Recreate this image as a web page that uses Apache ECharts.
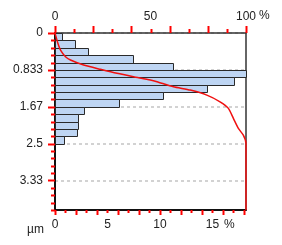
<!DOCTYPE html>
<html><head><meta charset="utf-8">
<script src="https://cdn.jsdelivr.net/npm/echarts@6/dist/echarts.min.js"></script>
<style>html,body{margin:0;padding:0;background:#fff}#c{width:282px;height:245px}</style>
</head><body><div id="c"></div>
<script>
// size classes (µm), bin edges
const binEdges = [0, 0.1667, 0.3333, 0.5, 0.6667, 0.8333, 1.0, 1.1667, 1.3333, 1.5, 1.6667, 1.8333, 2.0, 2.1667, 2.3333, 2.5];
// frequency per class (%)
const binValues = [0.68, 1.88, 3.11, 7.47, 11.2, 18.2, 17.1, 14.45, 10.26, 6.14, 2.73, 2.2, 2.2, 2.1, 0.83];
// cumulative curve (size µm, cumulative %)
const cumSizes   = [0, 0.05, 0.23, 0.385, 0.536, 0.611, 0.724, 0.821, 0.912, 0.989, 1.063, 1.102, 1.215, 1.29, 1.403, 1.554, 1.704, 1.93, 2.156, 2.308, 2.495, 4.0];
const cumPercent = [0, 0.3, 1.5, 2.9, 5.5, 8.1, 15.0, 23.8, 32.5, 41.1, 49.9, 53.4, 62.0, 70.8, 79.5, 86.4, 90.8, 93.4, 96.0, 98.6, 100, 100];
// axes: ranges, tick positions and tick labels
const yMax = 4.0;
const yTickValues = [0, 0.8333, 1.6667, 2.5, 3.3333];
const yTickLabels = ['0', '0.833', '1.67', '2.5', '3.33'];
const yMinorTicks = [0.1667, 0.3333, 0.5, 0.6667, 1.0, 1.1667, 1.3333, 1.5, 1.8333, 2.0, 2.1667, 2.3333, 2.6667, 2.8333, 3.0, 3.1667, 3.5, 3.6667, 3.8333, 4.0];
const freqMax = 18.2;
const freqLabelValues = [0, 5, 10, 15];
const freqTallTicks = [0, 2, 4, 6, 8, 10, 12, 14, 16, 18];
const freqShortTicks = [1, 3, 5, 7, 9, 11, 13, 15, 17];
const cumLabelValues = [0, 50, 100];
const cumTallTicks = [0, 20, 40, 60, 80, 100];
const cumShortTicks = [10, 30, 50, 70, 90];

const barData = binValues.map((v, i) => [binEdges[i], binEdges[i + 1], v]);
const lineData = cumSizes.map((s, i) => [cumPercent[i], s]);

const font = 'Liberation Sans';
const lblColor = '#222';
const hidden = {show: false};

// ticks drawn through the axes' own scales (api.coord)
function tickSeries(xAxisIndex, points, dx, dy) {
  return {
    type: 'custom', xAxisIndex: xAxisIndex, yAxisIndex: 0, clip: false, z: 6,
    data: points, encode: {x: 0, y: 1},
    renderItem: (params, api) => {
      const p = api.coord([api.value(0), api.value(1)]);
      let x = p[0], y = p[1];
      if (dx === 0) x = Math.round(x) + 0.5; else y = Math.round(y) + 0.5;
      return {type: 'line', shape: {x1: x, y1: y, x2: x + dx, y2: y + dy},
              style: {stroke: '#ff0000', lineWidth: 2}};
    }
  };
}

const chart = echarts.init(document.getElementById('c'));
chart.setOption({
  animation: false,
  backgroundColor: '#fff',
  grid: {left: 55, right: 36, top: 33, bottom: 35, show: false},
  xAxis: [
    {type: 'value', position: 'bottom', min: 0, max: freqMax,
     axisLine: {show: true, onZero: false, lineStyle: {color: '#111', width: 2}},
     axisTick: hidden,
     axisLabel: {show: true, customValues: freqLabelValues, margin: 9, color: lblColor, fontFamily: font, fontSize: 12},
     splitLine: hidden},
    {type: 'value', position: 'top', min: 0, max: 100,
     axisLine: {show: true, onZero: false, lineStyle: {color: '#333', width: 1.5}},
     axisTick: hidden,
     axisLabel: {show: true, customValues: cumLabelValues, margin: 10, color: lblColor, fontFamily: font, fontSize: 12},
     splitLine: hidden}
  ],
  yAxis: [
    {type: 'value', position: 'left', inverse: true, min: 0, max: yMax,
     axisLine: {show: true, onZero: false, lineStyle: {color: '#111', width: 2}},
     axisTick: hidden,
     axisLabel: {show: true, customValues: yTickValues, margin: 12, color: lblColor, fontFamily: font, fontSize: 12,
       formatter: v => { const i = yTickValues.findIndex(t => Math.abs(t - v) < 1e-3); return i >= 0 ? yTickLabels[i] : ''; }},
     splitLine: hidden},
    {type: 'value', position: 'left', inverse: true, min: 0, max: yMax, interval: 5 / 6,
     axisLine: {show: false, onZero: false}, axisTick: hidden, axisLabel: hidden,
     splitLine: {show: true, lineStyle: {color: '#c4c4c4', width: 1.5, type: [3, 3]}}},
    {type: 'value', position: 'right', inverse: true, min: 0, max: yMax,
     axisLine: {show: true, onZero: false, lineStyle: {color: '#333', width: 1.5}},
     axisTick: hidden, axisLabel: hidden, splitLine: hidden}
  ],
  graphic: [
    {type: 'text', left: 259, top: 10, style: {text: '%', fontFamily: font, fontSize: 12, fill: lblColor}},
    {type: 'text', left: 224, top: 219, style: {text: '%', fontFamily: font, fontSize: 12, fill: lblColor}},
    {type: 'text', left: 27, top: 224, style: {text: 'µm', fontFamily: font, fontSize: 12, fill: lblColor}}
  ],
  series: [
    {type: 'custom', xAxisIndex: 0, yAxisIndex: 0, data: barData, z: 3,
     encode: {x: 2, y: [0, 1]},
     renderItem: (params, api) => {
       const p0 = api.coord([0, api.value(0)]);
       const p1 = api.coord([api.value(2), api.value(1)]);
       const x0 = Math.round(p0[0]) + 0.5, y0 = Math.round(p0[1]) + 0.5;
       const x1 = Math.round(p1[0]) + 0.5, y1 = Math.round(p1[1]) + 0.5;
       return {type: 'rect', shape: {x: x0, y: y0, width: x1 - x0, height: y1 - y0},
               style: {fill: '#bed5f3', stroke: '#2a2a2a', lineWidth: 1}};
     }},
    {type: 'line', xAxisIndex: 1, yAxisIndex: 0, data: lineData, z: 5, clip: false,
     showSymbol: false, symbol: 'none', smooth: 0.2,
     lineStyle: {color: '#f01010', width: 1.5}},
    tickSeries(0, freqTallTicks.map(v => [v, yMax]), 0, 5),
    tickSeries(0, freqShortTicks.map(v => [v, yMax]), 0, 3),
    tickSeries(1, cumTallTicks.map(v => [v, 0]), 0, -7),
    tickSeries(1, cumShortTicks.map(v => [v, 0]), 0, -4),
    tickSeries(0, yTickValues.map(v => [0, v]), -7, 0),
    tickSeries(0, yMinorTicks.map(v => [0, v]), -4, 0)
  ]
});
</script>
</body></html>
